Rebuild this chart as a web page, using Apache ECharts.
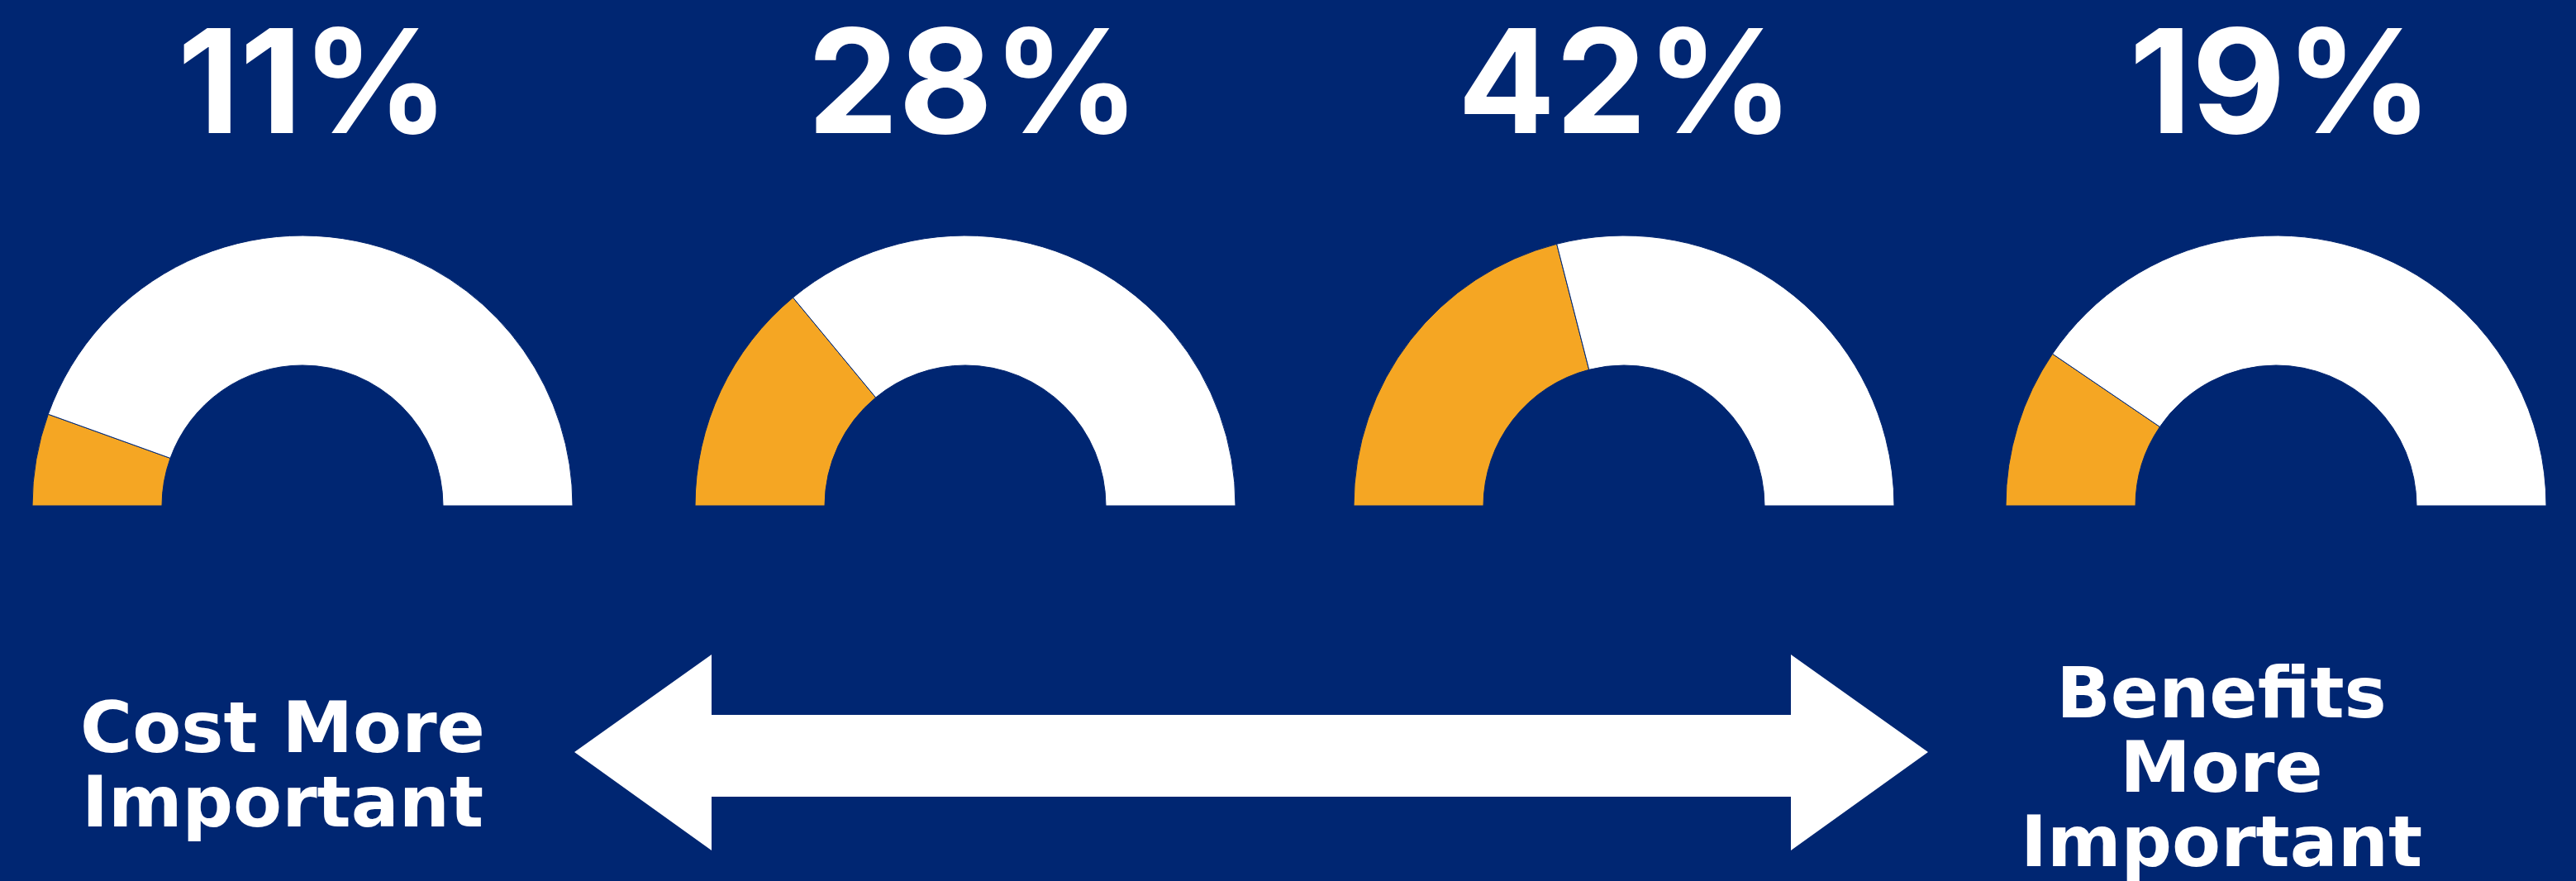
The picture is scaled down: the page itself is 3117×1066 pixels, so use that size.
<!DOCTYPE html>
<html>
<head>
<meta charset="utf-8">
<script src="https://cdn.jsdelivr.net/npm/echarts@6/dist/echarts.min.js"></script>
<style>
html,body{margin:0;padding:0;background:#002672;}
#chart{width:3117px;height:1066px;}
</style>
</head>
<body>
<div id="chart"></div>
<script>
// ---- data ----
const orangeValues = [11, 28, 42, 19];
const whiteValues = [89, 72, 58, 81];
const sliceNames = ['Cost', 'Benefits'];
const leftLabel = 'Cost More\nImportant';
const rightLabel = 'Benefits\nMore\nImportant';

// ---- layout / style ----
const BG = '#002672';
const ORANGE = '#F5A623';
const WHITE = '#FFFFFF';
const gaugeCenters = [366, 1168, 1965, 2754];
const gaugeY = 612;
const textCenters = [379, 1178, 1967, 2760];
const NUM_FONT = 'Inter, "DejaVu Sans", sans-serif';
const LBL_FONT = '"DejaVu Sans", sans-serif';

const chart = echarts.init(document.getElementById('chart'), null, {renderer: 'canvas'});

const series = orangeValues.map((v, i) => ({
  type: 'pie',
  center: [gaugeCenters[i], gaugeY],
  radius: [170, 327],
  startAngle: 180,
  endAngle: 0,
  clockwise: true,
  silent: true,
  animation: false,
  label: {show: false},
  labelLine: {show: false},
  itemStyle: {borderColor: BG, borderWidth: 1},
  data: [
    {name: sliceNames[0], value: v, itemStyle: {color: ORANGE}},
    {name: sliceNames[1], value: whiteValues[i], itemStyle: {color: WHITE}}
  ]
}));

const graphics = [];
orangeValues.forEach((v, i) => {
  graphics.push({
    type: 'text',
    x: textCenters[i],
    y: 108,
    silent: true,
    style: {
      text: v + '%',
      fill: WHITE,
      font: 'bold 175px ' + NUM_FONT,
      align: 'center',
      verticalAlign: 'middle'
    }
  });
});

// double-headed arrow
graphics.push({
  type: 'polygon',
  silent: true,
  shape: {
    points: [
      [695, 910], [861, 792], [861, 865], [2167, 865], [2167, 792],
      [2333, 910], [2167, 1029], [2167, 964], [861, 964], [861, 1029]
    ]
  },
  style: {fill: WHITE}
});

graphics.push({
  type: 'text',
  x: 342,
  y: 933,
  silent: true,
  style: {
    text: leftLabel,
    fill: WHITE,
    font: 'bold 86px ' + LBL_FONT,
    lineHeight: 90,
    align: 'center',
    verticalAlign: 'middle'
  }
});
graphics.push({
  type: 'text',
  x: 2688,
  y: 936,
  silent: true,
  style: {
    text: rightLabel,
    fill: WHITE,
    font: 'bold 86px ' + LBL_FONT,
    lineHeight: 90,
    align: 'center',
    verticalAlign: 'middle'
  }
});

chart.setOption({
  backgroundColor: BG,
  animation: false,
  series: series,
  graphic: graphics
});
</script>
</body>
</html>
